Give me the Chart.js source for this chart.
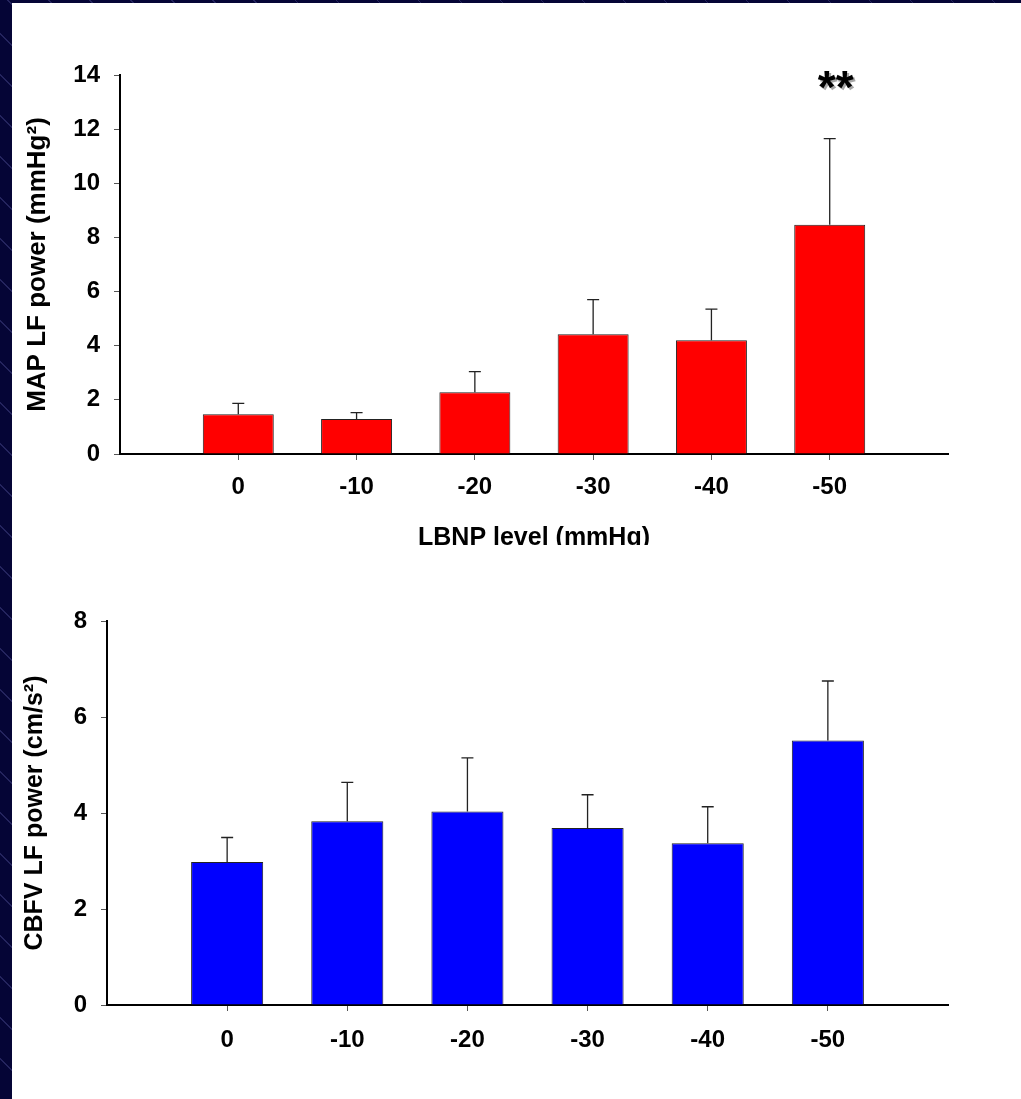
<!DOCTYPE html>
<html>
<head>
<meta charset="utf-8">
<script src="https://cdn.jsdelivr.net/npm/chart.js@4/dist/chart.umd.min.js"></script>
<style>
  html, body { margin: 0; padding: 0; }
  body {
    width: 1021px; height: 1099px; overflow: hidden; position: relative;
    background: repeating-linear-gradient(45deg, #050536 0px, #050536 28px, #24245e 28px, #24245e 29px);
  }
  #panel { position: absolute; left: 12px; top: 3px; right: 0; bottom: 0; background: #fff; }
  .box { position: absolute; left: 12px; width: 1009px; }
  #top { top: 3px; height: 542px; }
  #bottom { top: 545px; height: 554px; }
</style>
</head>
<body>
<div id="panel"></div>
<div class="box" id="top"><canvas id="mapChart"></canvas></div>
<div class="box" id="bottom"><canvas id="cbfvChart"></canvas></div>
<script>
// LBNP levels (mmHg)
const levels = ["0", "-10", "-20", "-30", "-40", "-50"];

// MAP LF power, mean and SE
const mapValues = [1.47, 1.29, 2.28, 4.42, 4.20, 8.47];
const mapErrors = [0.40, 0.24, 0.76, 1.28, 1.15, 3.18];
const mapMarks = ["", "", "", "", "", "**"];
const mapTicks = [0, 2, 4, 6, 8, 10, 12, 14];

// CBFV LF power, mean and SE
const cbfvValues = [2.98, 3.83, 4.03, 3.69, 3.37, 5.51];
const cbfvErrors = [0.51, 0.81, 1.12, 0.69, 0.76, 1.24];
const cbfvTicks = [0, 2, 4, 6, 8];

const FONT = "'Liberation Sans', Arial, sans-serif";

// empty slot on each side so the bars sit one step in from the axis ends
const labels = ["", ...levels, ""];
const pad = arr => [null, ...arr, null];

// error bars + significance stars, drawn from the scales
const errorBars = {
  id: "errorBars",
  afterDatasetsDraw(chart, args, opts) {
    const ctx = chart.ctx;
    const y = chart.scales.y;
    const meta = chart.getDatasetMeta(0);
    const vals = chart.data.datasets[0].data;
    ctx.save();
    ctx.strokeStyle = "#222";
    ctx.lineWidth = 1.3;
    meta.data.forEach((bar, i) => {
      const v = vals[i];
      if (v == null) return;
      const e = opts.errors[i - 1];
      const yTop = y.getPixelForValue(v + e);
      ctx.beginPath();
      ctx.moveTo(bar.x, bar.y);
      ctx.lineTo(bar.x, yTop);
      ctx.moveTo(bar.x - 6, yTop);
      ctx.lineTo(bar.x + 6, yTop);
      ctx.stroke();
      const mark = opts.marks && opts.marks[i - 1];
      if (mark) {
        ctx.font = "bold 46px " + FONT;
        ctx.textAlign = "center";
        ctx.textBaseline = "middle";
        ctx.shadowColor = "rgba(0,0,0,0.35)";
        ctx.shadowOffsetX = 2;
        ctx.shadowOffsetY = 2;
        ctx.fillStyle = "#000";
        ctx.fillText(mark, bar.x + 6, y.getPixelForValue(opts.markAt) + 9);
        ctx.shadowColor = "transparent";
      }
    });
    ctx.restore();
  }
};

function makeChart(el, cfg) {
  return new Chart(el, {
    type: "bar",
    data: {
      labels: labels,
      datasets: [{
        data: pad(cfg.values),
        backgroundColor: cfg.color,
        borderColor: "#222",
        borderWidth: 1,
        categoryPercentage: 1,
        barPercentage: 0.6
      }]
    },
    options: {
      responsive: true,
      maintainAspectRatio: false,
      animation: false,
      layout: { padding: { left: 0, right: 73, top: cfg.top, bottom: 0 } },
      plugins: {
        legend: { display: false },
        tooltip: { enabled: false },
        errorBars: { errors: cfg.errors, marks: cfg.marks, markAt: cfg.markAt }
      },
      scales: {
        x: {
          type: "category",
          offset: false,
          grid: {
            offset: false,
            drawOnChartArea: false,
            tickLength: 6,
            color: c => (c.index === 0 || c.index === labels.length - 1) ? "rgba(0,0,0,0)" : "#555"
          },
          border: { color: "#000", width: 2 },
          ticks: {
            color: "#000",
            font: { family: FONT, size: 24, weight: "bold" },
            padding: cfg.xPad,
            maxRotation: 0,
            autoSkip: false
          },
          title: {
            display: !!cfg.xTitle,
            text: cfg.xTitle,
            color: "#000",
            font: { family: FONT, size: 25, weight: "bold", lineHeight: 1 },
            padding: { top: 0, bottom: -6 }
          },
          afterFit: s => { s.height = cfg.xHeight; }
        },
        y: {
          min: 0,
          max: cfg.ticks[cfg.ticks.length - 1],
          afterBuildTicks: s => { s.ticks = cfg.ticks.map(v => ({ value: v })); },
          grid: { drawOnChartArea: false, tickLength: 6, color: "#555" },
          border: { color: "#000", width: 2 },
          ticks: {
            color: "#000",
            font: { family: FONT, size: 24, weight: "bold" },
            padding: 14
          },
          title: {
            display: true,
            text: cfg.yTitle,
            color: "#000",
            font: { family: FONT, size: cfg.yTitleSize, weight: "bold", lineHeight: 1 },
            padding: { top: cfg.yTitlePad, bottom: 0 }
          },
          afterFit: s => { s.width = cfg.yWidth; }
        }
      }
    },
    plugins: [errorBars]
  });
}

makeChart(document.getElementById("mapChart"), {
  values: mapValues, errors: mapErrors, marks: mapMarks, markAt: 13.75,
  ticks: mapTicks, color: "#ff0000",
  yTitle: "MAP LF power (mmHg²)", yTitleSize: 26, yTitlePad: 13,
  xTitle: "LBNP level (mmHg)",
  top: 72, yWidth: 108, xHeight: 91, xPad: 13
});

makeChart(document.getElementById("cbfvChart"), {
  values: cbfvValues, errors: cbfvErrors, marks: null, markAt: 0,
  ticks: cbfvTicks, color: "#0000ff",
  yTitle: "CBFV LF power (cm/s²)", yTitleSize: 25, yTitlePad: 11,
  xTitle: "",
  top: 76, yWidth: 95, xHeight: 94, xPad: 15
});
</script>
</body>
</html>
